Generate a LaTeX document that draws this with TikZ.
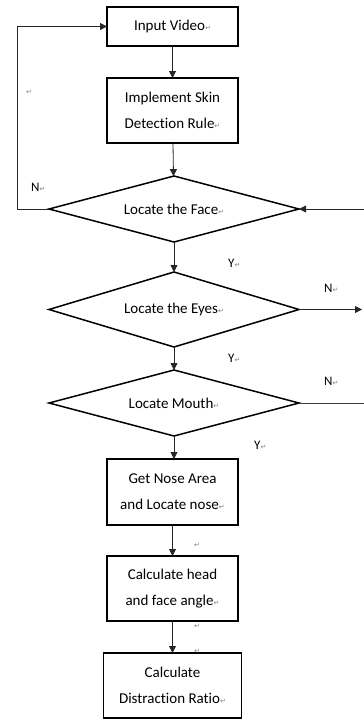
\documentclass[tikz,border=0pt]{standalone}
\usepackage{fontspec}
\setmainfont{Carlito}[Ligatures=NoCommon]
\newfontfamily\symfont{DejaVu Sans}
\usetikzlibrary{positioning, arrows.meta, shapes.geometric}
\newcommand{\retmark}{{\symfont\color{gray}\fontsize{7}{7}\selectfont ↵}}

\begin{document}
\begin{tikzpicture}[x=1pt, y=1pt,
  procbox/.style={draw, line width=1.5pt, minimum width=131pt, minimum height=39pt,
                  outer sep=0pt, align=center, inner sep=2pt,
                  font=\fontsize{15}{26}\selectfont},
  decision/.style={draw, diamond, aspect=3.7, line width=1.5pt, minimum width=250pt,
                   minimum height=66pt, outer sep=0pt, inner sep=0pt, align=center,
                   font=\fontsize{15}{26}\selectfont},
  arr/.style={-{Triangle[length=7pt, width=7pt]}, line width=0.8pt, color=black!85},
  plain/.style={line width=0.8pt, color=black!75},
  lbl/.style={font=\fontsize{13}{13}\selectfont, inner sep=0pt, anchor=west},
]
\useasboundingbox (0,0) rectangle (364,-721);

% Process chain
\node[procbox] (input) at (172.5,-26.5) {Input Video\retmark};
\node[procbox, minimum height=65pt, below=32pt of input] (skin)
  {Implement Skin\\Detection Rule\retmark};
\node[decision, below=33pt of skin, xshift=1.5pt] (face) {Locate the Face\retmark};
\node[decision, aspect=3.33, minimum height=75pt, below=30pt of face] (eyes)
  {Locate the Eyes\retmark};
\node[decision, below=23pt of eyes] (mouth) {Locate Mouth\retmark};
\node[procbox, minimum height=66pt, below=23pt of mouth, xshift=-1.5pt] (nose)
  {Get Nose Area\\and Locate nose\retmark};
\node[procbox, minimum height=65pt, below=31pt of nose] (head)
  {Calculate head\\and face angle\retmark};
\node[procbox, minimum width=138pt, minimum height=65pt, below=32pt of head] (ratio)
  {Calculate\\Distraction Ratio\retmark};

% Helper coordinates
\coordinate (loopx) at (17,0);
\coordinate (edge) at (364,0);
\coordinate (eyesend) at (362,0);

% Arrows
\draw[arr] (input) -- (skin);
\draw[arr] (skin) -- (face);
\draw[arr] (face) -- (eyes);
\draw[arr] (eyes) -- (mouth);
\draw[arr] (mouth.south) -- (nose.north -| mouth.south);
\draw[arr] (nose) -- (head);
\draw[arr] (head) -- (ratio);
\draw[arr] (face.west) -- (face.west -| loopx) |- (input.west);
\draw[arr] (face.east -| edge) -- (face.east);
\draw[arr] (eyes.east) -- (eyes.east -| eyesend);
\draw[plain] (mouth.east) -- (mouth.east -| edge);

% Labels
\node[lbl] (nface) at (31,-187) {N\retmark};
\node[lbl] (yface) at (228,-263) {Y\retmark};
\node[lbl] (neyes) at (324,-288) {N\retmark};
\node[lbl] (yeyes) at (228,-358) {Y\retmark};
\node[lbl] (nmouth) at (324,-381) {N\retmark};
\node[lbl] (ymouth) at (254,-445) {Y\retmark};

% Stray paragraph marks
\node[inner sep=0pt] (pm1) at (29,-92) {\retmark};
\node[inner sep=0pt] (pm2) at (197,-545) {\retmark};
\node[inner sep=0pt] (pm3) at (197,-626) {\retmark};
\node[inner sep=0pt] (pm4) at (197,-651) {\retmark};
\end{tikzpicture}
\end{document}
